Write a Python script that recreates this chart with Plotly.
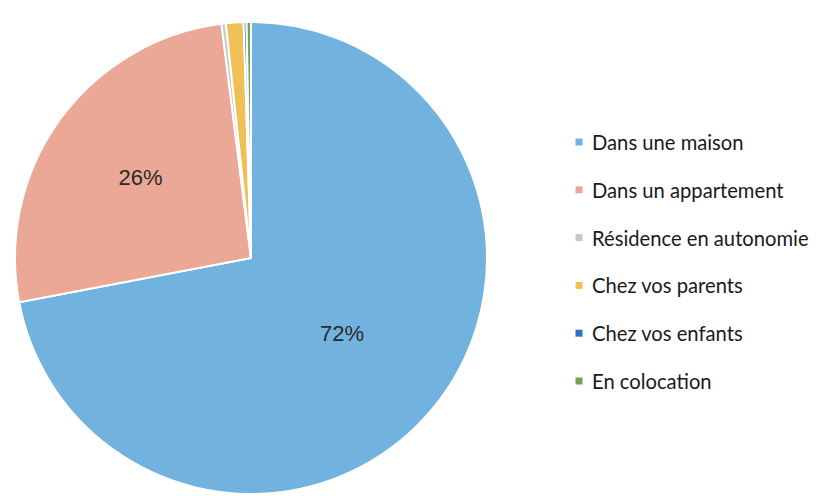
import plotly.graph_objects as go

labels = ["Dans une maison", "Dans un appartement", "Résidence en autonomie",
          "Chez vos parents", "Chez vos enfants", "En colocation"]
values = [72, 26, 0.3, 1.2, 0.2, 0.3]
shown_text = ["72%", "26%", "", "", "", ""]
colors = ["#72b2df", "#eba897", "#c8c8c8", "#eec055", "#2f74b8", "#6aa850"]

OFF = 8  # page body margin offset
W, H = 823 - OFF, 496 - OFF

fig = go.Figure()
fig.add_trace(go.Pie(
    labels=labels, values=values, text=shown_text,
    textinfo="text", textposition="inside", insidetextorientation="horizontal",
    sort=False, direction="clockwise", rotation=0,
    marker=dict(colors=colors, line=dict(color="white", width=2)),
    textfont=dict(family="Liberation Sans, Arial", size=22, color="#2a2a2a"),
    domain=dict(x=[(15 - OFF)/W, (487 - OFF)/W],
                y=[1 - (494 - OFF)/H, 1 - (22 - OFF)/H]),
    showlegend=False, hoverinfo="label+percent",
))

# legend drawn from the label/colour arrays
leg_x_marker = 579 - OFF
leg_x_text = 590 - OFF
leg_y0 = 142 - OFF
leg_dy = 47.8
ms = 3.5
shapes = []
annotations = []
for i, (lab, col) in enumerate(zip(labels, colors)):
    y = leg_y0 + i * leg_dy
    shapes.append(dict(type="rect", xref="paper", yref="paper",
                       x0=(leg_x_marker - ms)/W, x1=(leg_x_marker + ms)/W,
                       y0=1-(y + ms)/H, y1=1-(y - ms)/H,
                       fillcolor=col, line=dict(width=0)))
    annotations.append(dict(text=lab, xref="paper", yref="paper",
                            x=leg_x_text/W, y=1-y/H, xanchor="left", yanchor="middle",
                            showarrow=False,
                            font=dict(family="Lato, Carlito, sans-serif", size=20.2, color="#1a1a1a")))

fig.update_layout(width=W, height=H, margin=dict(l=0, r=0, t=0, b=0),
                  paper_bgcolor="white", plot_bgcolor="white",
                  shapes=shapes, annotations=annotations)
fig.write_html("out.html")
